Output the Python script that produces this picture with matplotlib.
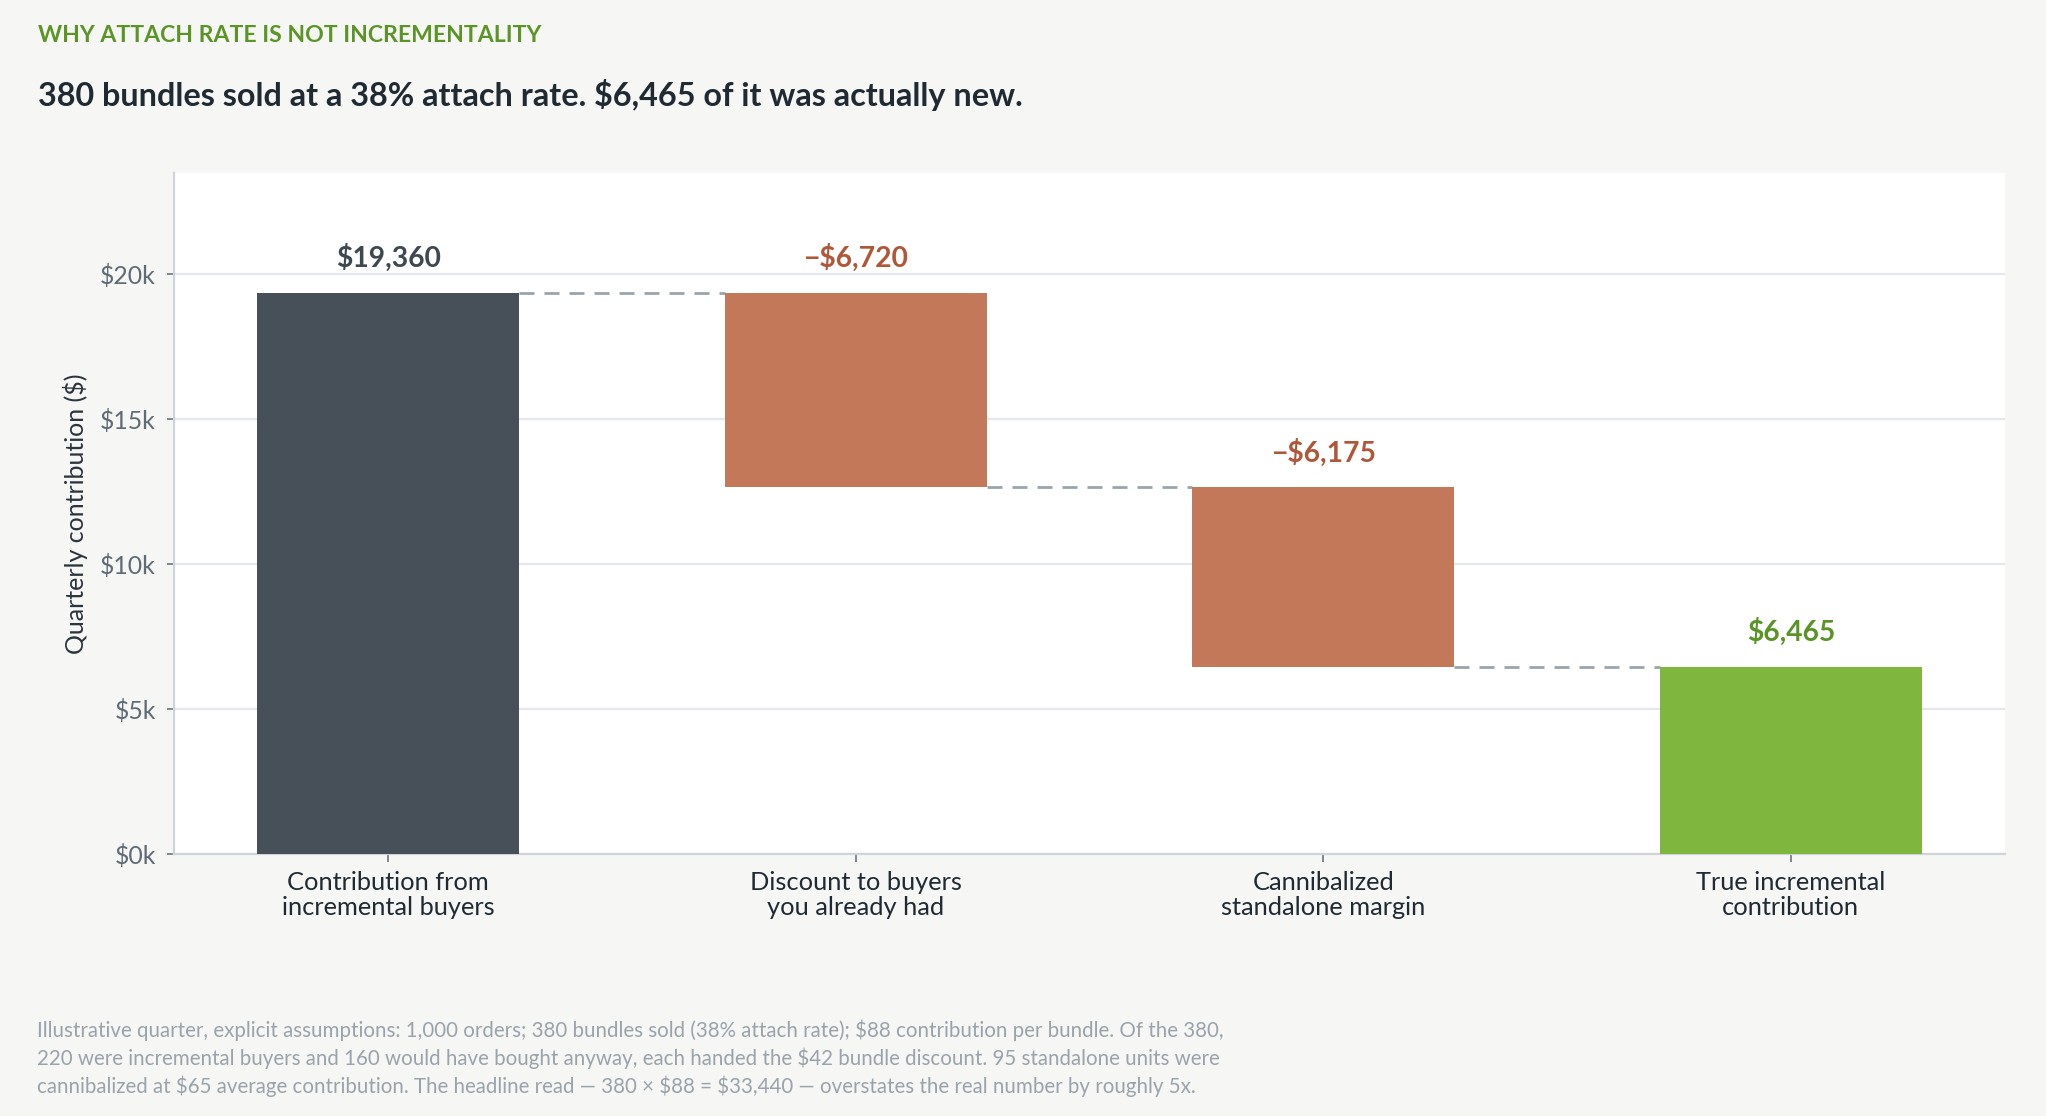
import matplotlib
matplotlib.use("Agg")
import matplotlib.pyplot as plt
import numpy as np

plt.rcParams['font.family'] = ['Lato', 'DejaVu Sans']

# ---- data ----
categories = ["Contribution from\nincremental buyers",
              "Discount to buyers\nyou already had",
              "Cannibalized\nstandalone margin",
              "True incremental\ncontribution"]
values = [19360, -6720, -6175, 6465]
kinds = ["total", "delta", "delta", "total"]
value_labels = ["$19,360", "\u2212$6,720", "\u2212$6,175", "$6,465"]
yticks = [0, 5000, 10000, 15000, 20000]
ytick_labels = ["$0k", "$5k", "$10k", "$15k", "$20k"]
kicker = "WHY ATTACH RATE IS NOT INCREMENTALITY"
title = "380 bundles sold at a 38% attach rate. $6,465 of it was actually new."
ylabel = "Quarterly contribution ($)"
footnote = [
    "Illustrative quarter, explicit assumptions: 1,000 orders; 380 bundles sold (38% attach rate); $88 contribution per bundle. Of the 380,",
    "220 were incremental buyers and 160 would have bought anyway, each handed the $42 bundle discount. 95 standalone units were",
    "cannibalized at $65 average contribution. The headline read \u2014 380 \u00d7 $88 = $33,440 \u2014 overstates the real number by roughly 5x.",
]

# ---- style ----
BG = "#f6f6f4"
C_TOTAL = "#475059"
C_NEG = "#c4785a"
C_FINAL = "#7fb63e"
L_TOTAL = "#3e4851"
L_NEG = "#b0573a"
L_FINAL = "#5a9427"
W, H = 2046, 1116
DPI = 100

fig = plt.figure(figsize=(W / DPI, H / DPI), dpi=DPI, facecolor=BG)
ax = fig.add_axes([174 / W, 1 - 854 / H, (2005 - 174) / W, (854 - 172.5) / H])
ax.set_facecolor("white")

x = np.arange(len(categories))
bw = 0.561
bottoms, heights, colors, lcolors, tops = [], [], [], [], []
running = 0
for i, (v, k) in enumerate(zip(values, kinds)):
    if k == "total":
        b, h = 0, v
        running = v
        col = C_TOTAL if i == 0 else C_FINAL
        lc = L_TOTAL if i == 0 else L_FINAL
    else:
        new = running + v
        b, h = min(running, new), abs(v)
        running = new
        col, lc = C_NEG, L_NEG
    bottoms.append(b); heights.append(h); colors.append(col); lcolors.append(lc)
    tops.append(b + h)

ax.bar(x, heights, bottom=bottoms, width=bw, color=colors, zorder=3)

# connectors
for i in range(len(categories) - 1):
    lvl = tops[i] if kinds[i] == "total" else bottoms[i]
    ax.plot([x[i] + bw / 2, x[i + 1] - bw / 2], [lvl, lvl], color="#9ba4ac",
            lw=2, linestyle=(0, (5.4, 3.6)), zorder=2, solid_capstyle="butt")

for i in range(len(categories)):
    ax.annotate(value_labels[i], (x[i], tops[i]), xytext=(0, 18.5),
                textcoords="offset points", ha="center", va="baseline",
                fontsize=20.3, fontweight="bold", color=lcolors[i], zorder=4)

ax.set_xlim(-0.458, 3.458)
ax.set_ylim(0, 23500)
ax.set_yticks(yticks)
ax.set_yticklabels(ytick_labels)
ax.set_xticks(x)
ax.set_xticklabels(categories, linespacing=1.1)
ax.grid(axis="y", color="#e4e8ec", lw=1.6, zorder=0)
ax.set_axisbelow(True)
for s in ["top", "right"]:
    ax.spines[s].set_visible(False)
for s in ["left", "bottom"]:
    ax.spines[s].set_color("#cfd4d9")
    ax.spines[s].set_linewidth(1.6)
ax.tick_params(axis="y", length=5, width=1.2, color="#6b747c", labelsize=17.8,
               labelcolor="#5f6b75", pad=8)
ax.tick_params(axis="x", length=6, width=1.2, color="#6b747c", labelsize=18.3,
               labelcolor="#1f2a33", pad=6)
ax.text((76 - 174) / ((2005 - 174)), 0.5, ylabel, transform=ax.transAxes,
        rotation=90, ha="center", va="center", fontsize=18, color="#2b343c")

fig.text(38 / W, 1 - 41.7 / H, kicker, ha="left", va="baseline", fontsize=16.6,
         fontweight="bold", color="#5b9427")
fig.text(38 / W, 1 - 105.7 / H, title, ha="left", va="baseline", fontsize=23.3,
         fontweight="bold", color="#1f2a33")
for j, line in enumerate(footnote):
    fig.text(37 / W, 1 - (1037 + 28 * j) / H, line, ha="left", va="baseline",
             fontsize=14.8, color="#9aa3ab", parse_math=False)

fig.savefig("out.png", dpi=DPI, facecolor=BG)
